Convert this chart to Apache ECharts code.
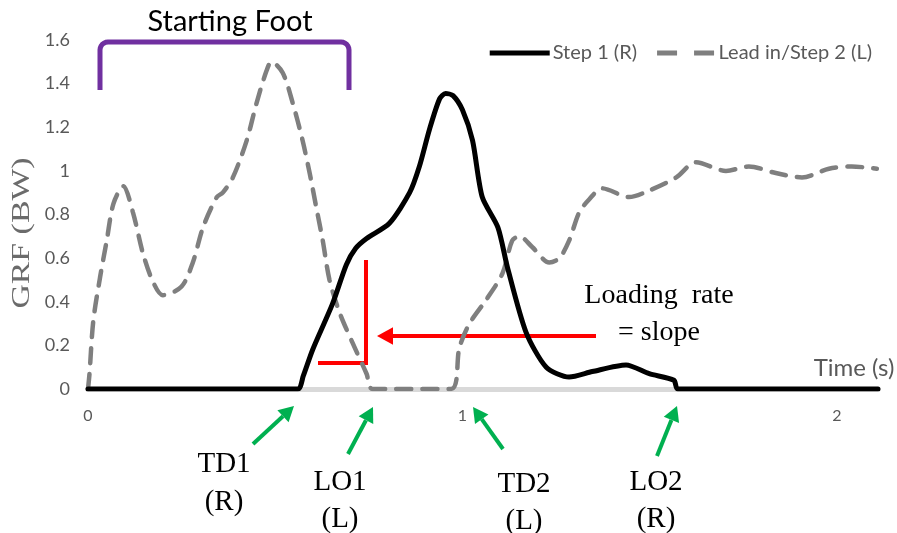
<!DOCTYPE html>
<html>
<head>
<meta charset="utf-8">
<script src="https://cdn.jsdelivr.net/npm/echarts@6/dist/echarts.min.js"></script>
<style>
  html, body { margin: 0; padding: 0; background: #fff; }
  #chart { width: 897px; height: 533px; }
</style>
</head>
<body>
<div id="chart"></div>
<script>
// values: [time (s), GRF (BW)]
const step1 = [
  [0, 0], [0.56, 0], [0.575, 0.06], [0.6, 0.18], [0.653, 0.39], [0.69, 0.57], [0.715, 0.645],
  [0.744, 0.69], [0.805, 0.76], [0.859, 0.9], [0.885, 1.02], [0.912, 1.19],
  [0.939, 1.33], [0.955, 1.355], [0.975, 1.345], [1.0, 1.28], [1.027, 1.14],
  [1.053, 0.88], [1.095, 0.74], [1.12, 0.56], [1.17, 0.26], [1.224, 0.1],
  [1.285, 0.055], [1.347, 0.08], [1.437, 0.11], [1.499, 0.07], [1.565, 0.04],
  [1.575, 0], [2.11, 0]
];
const leadIn = [
  [0, 0], [0.004, 0.07], [0.014, 0.31], [0.032, 0.51], [0.05, 0.68], [0.068, 0.85],
  [0.094, 0.93], [0.12, 0.81], [0.147, 0.62], [0.174, 0.49], [0.2, 0.43],
  [0.25, 0.47], [0.28, 0.58], [0.307, 0.74], [0.344, 0.88], [0.36, 0.9],
  [0.387, 0.97], [0.424, 1.14], [0.45, 1.31], [0.477, 1.46], [0.49, 1.5],
  [0.52, 1.45], [0.547, 1.31], [0.573, 1.14], [0.592, 0.99], [0.61, 0.83],
  [0.627, 0.68], [0.645, 0.5], [0.672, 0.35], [0.707, 0.21], [0.744, 0.07],
  [0.76, 0], [0.97, 0], [0.992, 0.19], [1.019, 0.3], [1.064, 0.41],
  [1.107, 0.53], [1.133, 0.68], [1.152, 0.7], [1.187, 0.65], [1.232, 0.58],
  [1.259, 0.6], [1.285, 0.68], [1.312, 0.81], [1.339, 0.87], [1.373, 0.92],
  [1.445, 0.88], [1.499, 0.91], [1.571, 0.97], [1.624, 1.04], [1.704, 1.0],
  [1.765, 1.02], [1.837, 0.99], [1.907, 0.97], [1.979, 1.01], [2.04, 1.02],
  [2.107, 1.01]
];
const seriesNames = ['Step 1 (R)', 'Lead in/Step 2 (L)'];
const xTicks = [0, 1, 2];

const serif = '"Liberation Serif", "Times New Roman", serif';
const sans = 'Lato, Carlito, Calibri, "Open Sans", sans-serif';
const green = '#00B050';
const red = '#FF0000';

// arrow: shaft plus triangular head pointing at (x2, y2)
function arrow(x1, y1, x2, y2, color, w, head) {
  const a = Math.atan2(y2 - y1, x2 - x1);
  const bx = x2 - head * Math.cos(a), by = y2 - head * Math.sin(a);
  const px = Math.sin(a) * head * 0.55, py = -Math.cos(a) * head * 0.55;
  return [
    { type: 'line', shape: { x1: x1, y1: y1, x2: bx, y2: by }, style: { stroke: color, lineWidth: w } },
    { type: 'polygon', shape: { points: [[x2, y2], [bx + px, by + py], [bx - px, by - py]] }, style: { fill: color } }
  ];
}
function label(text, x, y) {
  return { type: 'text', x: x, y: y, style: { text: text, font: '29px ' + serif, fill: '#000', align: 'center', verticalAlign: 'middle' } };
}
// bracket with rounded top corners
function bracket(x1, x2, top, bottom, r) {
  const pts = [[x1, bottom]];
  for (let i = 0; i <= 6; i++) {
    const t = Math.PI - i * Math.PI / 12;
    pts.push([x1 + r + r * Math.cos(t), top + r - r * Math.sin(t)]);
  }
  for (let i = 0; i <= 6; i++) {
    const t = Math.PI / 2 - i * Math.PI / 12;
    pts.push([x2 - r + r * Math.cos(t), top + r - r * Math.sin(t)]);
  }
  pts.push([x2, bottom]);
  return pts;
}

const chart = echarts.init(document.getElementById('chart'));
chart.setOption({
  animation: false,
  grid: { left: 88, right: 19, top: 40, bottom: 144, containLabel: false, outerBoundsMode: 'none' },
  legend: {
    top: 38, right: 20,
    itemWidth: 60, itemHeight: 5, itemGap: 20,
    textStyle: { color: '#595959', fontSize: 20, fontFamily: sans, padding: [0, 0, 0, -2] },
    data: [
      { name: seriesNames[0], icon: 'path://M0,0h60v5h-60z' },
      { name: seriesNames[1], icon: 'path://M0,0h20v5h-20z M37,0h20v5h-20z' }
    ]
  },
  xAxis: {
    type: 'value', min: 0, max: 2.11, interval: 1,
    axisLine: { show: true, onZero: true, lineStyle: { color: '#D9D9D9', width: 5 } },
    axisTick: { show: false },
    splitLine: { show: false },
    axisLabel: {
      color: '#595959', fontSize: 16, fontFamily: sans, margin: 19,
      formatter: v => (xTicks.indexOf(v) >= 0 ? String(v) : ''),
      showMaxLabel: false
    }
  },
  yAxis: {
    type: 'value', min: 0, max: 1.6, interval: 0.2,
    axisLine: { show: false }, axisTick: { show: false },
    splitLine: { show: false },
    axisLabel: {
      color: '#595959', fontSize: 18, fontFamily: sans, margin: 18,
      formatter: v => String(Math.round(v * 10) / 10)
    }
  },
  series: [
    {
      name: seriesNames[0], type: 'line', data: step1, smooth: 0.25,
      showSymbol: false, symbol: 'none', z: 3,
      lineStyle: { color: '#000', width: 5, cap: 'round', join: 'round' },
      itemStyle: { color: '#000' }
    },
    {
      name: seriesNames[1], type: 'line', data: leadIn, smooth: 0.3,
      showSymbol: false, symbol: 'none', z: 2,
      lineStyle: { color: '#7F7F7F', width: 4.5, type: [15, 11], cap: 'round' },
      itemStyle: { color: '#7F7F7F' }
    }
  ],
  graphic: [
    // y axis title
    { type: 'text', x: 22, y: 233, rotation: Math.PI / 2, scaleX: 1.3,
      style: { text: 'GRF (BW)', font: '26px ' + serif, fill: '#6b6b6b', align: 'center', verticalAlign: 'middle' } },
    // starting foot bracket
    { type: 'polyline', shape: { points: bracket(100, 349, 42, 90, 8) },
      style: { stroke: '#7030A0', lineWidth: 5, fill: null } },
    { type: 'text', x: 230, y: 22, style: { text: 'Starting Foot', font: '29px ' + sans, fill: '#000', align: 'center', verticalAlign: 'middle' } },
    { type: 'text', x: 854, y: 368, style: { text: 'Time (s)', font: '24px ' + sans, fill: '#595959', align: 'center', verticalAlign: 'middle' } },
    // loading rate annotation
    { type: 'polyline', shape: { points: [[318, 363], [366, 363], [366, 260]] }, style: { stroke: red, lineWidth: 4, fill: null } },
    ...arrow(596, 336, 377, 336, red, 4, 16),
    { type: 'text', x: 659, y: 296, style: { text: 'Loading  rate', font: '28px ' + serif, fill: '#000', align: 'center', verticalAlign: 'middle' } },
    { type: 'text', x: 659, y: 333, style: { text: '= slope', font: '28px ' + serif, fill: '#000', align: 'center', verticalAlign: 'middle' } },
    // events
    ...arrow(253, 444, 294, 406, green, 4, 15),
    ...arrow(348, 454, 373, 407, green, 4, 15),
    ...arrow(503, 449, 473, 407, green, 4, 15),
    ...arrow(657, 456, 677, 406, green, 4, 15),
    label('TD1', 224, 464), label('(R)', 224, 502),
    label('LO1', 340, 482), label('(L)', 340, 519),
    label('TD2', 524, 484), label('(L)', 524, 521),
    label('LO2', 656, 482), label('(R)', 656, 519)
  ]
});
</script>
</body>
</html>
